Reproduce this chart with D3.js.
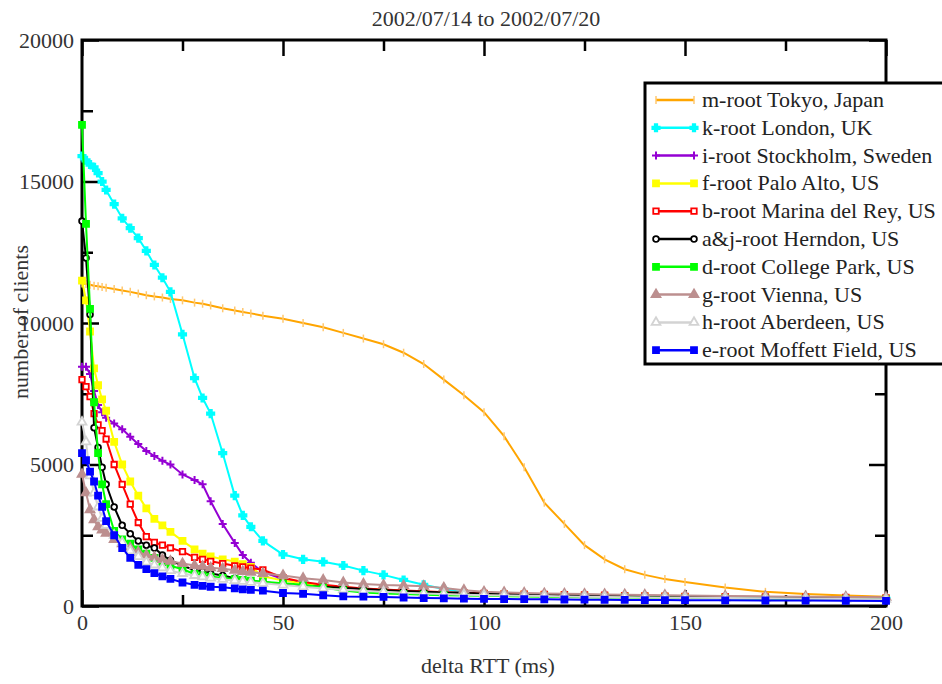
<!DOCTYPE html>
<html>
<head>
<meta charset="utf-8">
<script src="https://cdn.jsdelivr.net/npm/d3@7"></script>
<style>
  body { margin: 0; background: #fff; }
  svg { display: block; }
</style>
</head>
<body>
<svg></svg>
<script>
const width = 942;
const height = 684;
const font = "'Liberation Serif', 'DejaVu Serif', 'Times New Roman', Times, serif";

// delta RTT sample points (ms), shared by every curve
const rtt = [0, 1, 2, 3, 4, 5, 6, 8, 10, 12, 14, 16, 18, 20, 22, 25, 28, 30, 32, 35,
             38, 40, 42, 45, 50, 55, 60, 65, 70, 75, 80, 85, 90, 95, 100, 105, 110, 115, 120, 125,
             130, 135, 140, 145, 150, 160, 170, 180, 190, 200];

// number of clients for each root server
const mRoot = [11400, 11380, 11350, 11320, 11300, 11270, 11250, 11200, 11150, 11100, 11040, 10980, 10940, 10900, 10850, 10800, 10720, 10680, 10620, 10520,
               10440, 10390, 10340, 10260, 10150, 10000, 9850, 9650, 9450, 9250, 8950, 8550, 8000, 7450, 6850, 6000, 4900, 3650, 2900, 2150,
               1650, 1300, 1100, 950, 850, 650, 500, 420, 370, 330];
const kRoot = [15900, 15750, 15600, 15500, 15300, 15000, 14700, 14200, 13700, 13350, 13000, 12550, 12050, 11600, 11100, 9600, 8050, 7350, 6800, 5400,
               3900, 3200, 2800, 2300, 1820, 1650, 1560, 1430, 1250, 1100, 920, 750, 600, 480, 420, 400, 380, 370, 360, 350,
               340, 330, 320, 310, 300, 290, 280, 270, 260, 250];
const iRoot = [8450, 8450, 8200, 7600, 7100, 6850, 6650, 6450, 6250, 5980, 5720, 5480, 5300, 5130, 5000, 4650, 4450, 4300, 3700, 2900,
               2230, 1800, 1530, 1200, 950, 820, 720, 650, 600, 560, 520, 490, 460, 440, 420, 400, 390, 380, 370, 360,
               350, 345, 340, 335, 330, 320, 310, 300, 290, 280];
const fRoot = [11500, 10800, 9700, 8400, 7800, 7300, 6900, 5800, 5000, 4400, 3900, 3450, 3080, 2850, 2620, 2300, 2000, 1850, 1750, 1650,
               1570, 1480, 1380, 1050, 900, 800, 720, 660, 610, 570, 530, 500, 470, 450, 430, 410, 400, 390, 380, 370,
               360, 350, 340, 330, 320, 300, 290, 280, 270, 260];
const bRoot = [8000, 7750, 7400, 6800, 6400, 6200, 5900, 5000, 4300, 3600, 2950, 2450, 2250, 2150, 2050, 1920, 1720, 1650, 1580, 1500,
               1420, 1380, 1340, 1280, 1000, 850, 750, 680, 620, 580, 550, 520, 490, 470, 450, 430, 420, 410, 400, 390,
               380, 370, 360, 350, 340, 330, 320, 310, 300, 290];
const ajRoot = [13600, 12300, 10300, 6300, 5600, 4900, 4300, 3500, 2850, 2550, 2300, 2150, 2050, 1800, 1620, 1420, 1270, 1230, 1150, 1080,
                980, 920, 880, 840, 780, 720, 680, 640, 600, 560, 530, 500, 480, 460, 440, 420, 400, 390, 380, 370,
                360, 350, 340, 330, 320, 310, 300, 290, 280, 270];
const dRoot = [17000, 13500, 10500, 7200, 5400, 4300, 3600, 2650, 2350, 2200, 2000, 1850, 1700, 1550, 1420, 1300, 1130, 1080, 1040, 990,
               950, 920, 900, 860, 800, 750, 650, 550, 480, 440, 420, 400, 380, 370, 360, 350, 340, 330, 320, 310,
               300, 300, 290, 290, 280, 270, 260, 250, 240, 230];
const gRoot = [4650, 4000, 3400, 3050, 2800, 2680, 2570, 2350, 2200, 2050, 1900, 1800, 1720, 1640, 1580, 1500, 1430, 1400, 1350, 1320,
               1260, 1220, 1190, 1150, 1080, 980, 920, 830, 780, 740, 720, 700, 640, 560, 500, 480, 460, 440, 430, 420,
               410, 400, 390, 380, 370, 350, 340, 330, 320, 310];
const hRoot = [6500, 5800, 4600, 4000, 3500, 3100, 2850, 2500, 2250, 1950, 1750, 1550, 1450, 1350, 1250, 1150, 1080, 1030, 990, 940,
               900, 870, 840, 800, 740, 680, 620, 570, 530, 500, 470, 440, 420, 400, 380, 370, 360, 350, 340, 330,
               320, 310, 300, 295, 290, 280, 270, 260, 250, 240];
const eRoot = [5400, 5150, 4750, 4400, 3900, 3500, 3000, 2500, 2050, 1700, 1450, 1300, 1160, 1050, 960, 830, 750, 710, 680, 660,
               620, 590, 570, 540, 460, 430, 380, 340, 330, 320, 300, 280, 270, 260, 250, 245, 240, 235, 230, 225,
               220, 215, 210, 208, 205, 200, 195, 190, 185, 180];

const labels = ["m-root Tokyo, Japan", "k-root London, UK", "i-root Stockholm, Sweden", "f-root Palo Alto, US",
                "b-root Marina del Rey, US", "a&j-root Herndon, US", "d-root College Park, US", "g-root Vienna, US",
                "h-root Aberdeen, US", "e-root Moffett Field, US"];
const values = [mRoot, kRoot, iRoot, fRoot, bRoot, ajRoot, dRoot, gRoot, hRoot, eRoot];
const colors = ["#ffa500", "#00ffff", "#9400d3", "#ffff00", "#ff0000", "#000000", "#00ff00", "#bc8f8f", "#d3d3d3", "#0000ff"];
const markers = ["bar", "cross", "plus", "square", "openSquare", "circle", "square", "triangle", "openTriangle", "square"];

const xTicks = [0, 50, 100, 150, 200];
const xMinor = [25, 75, 125, 175];
const yTicks = [0, 5000, 10000, 15000, 20000];
const yMinor = [2500, 7500, 12500, 17500];

const svg = d3.select("svg")
    .attr("width", width)
    .attr("height", height)
    .style("font-family", font);

const plot = { left: 82, right: 886, top: 40, bottom: 606 };

const x = d3.scaleLinear().domain([0, 200]).range([plot.left, plot.right]);
const y = d3.scaleLinear().domain([0, 20000]).range([plot.bottom, plot.top]);

draw_axes();
draw_curves();
draw_legend();
draw_titles();

function styleAxis(g) {
    g.attr("font-family", null);
    g.select(".domain").remove();
    g.selectAll(".tick line").attr("stroke", "#000").attr("stroke-width", 2.5);
    g.selectAll(".tick text")
        .style("font-family", font)
        .attr("font-size", "22px")
        .attr("fill", "#333");
}

function draw_axes() {
    // major ticks with labels, minor ticks without; all ticks point inward
    svg.append("g").attr("transform", `translate(0,${plot.bottom})`)
        .call(d3.axisBottom(x).tickValues(xTicks).tickSizeInner(-16).tickSizeOuter(0).tickPadding(8).tickFormat(d3.format("d")))
        .call(styleAxis);
    svg.append("g").attr("transform", `translate(0,${plot.bottom})`)
        .call(d3.axisBottom(x).tickValues(xMinor).tickSizeInner(-11).tickSizeOuter(0).tickFormat(""))
        .call(styleAxis);
    svg.append("g").attr("transform", `translate(0,${plot.top})`)
        .call(d3.axisTop(x).tickValues(xTicks).tickSizeInner(-16).tickSizeOuter(0).tickFormat(""))
        .call(styleAxis);
    svg.append("g").attr("transform", `translate(0,${plot.top})`)
        .call(d3.axisTop(x).tickValues(xMinor).tickSizeInner(-11).tickSizeOuter(0).tickFormat(""))
        .call(styleAxis);

    svg.append("g").attr("transform", `translate(${plot.left},0)`)
        .call(d3.axisLeft(y).tickValues(yTicks).tickSizeInner(-17).tickSizeOuter(0).tickPadding(8).tickFormat(d3.format("d")))
        .call(styleAxis);
    svg.append("g").attr("transform", `translate(${plot.left},0)`)
        .call(d3.axisLeft(y).tickValues(yMinor).tickSizeInner(-11).tickSizeOuter(0).tickFormat(""))
        .call(styleAxis);
    svg.append("g").attr("transform", `translate(${plot.right},0)`)
        .call(d3.axisRight(y).tickValues(yTicks).tickSizeInner(-17).tickSizeOuter(0).tickFormat(""))
        .call(styleAxis);
    svg.append("g").attr("transform", `translate(${plot.right},0)`)
        .call(d3.axisRight(y).tickValues(yMinor).tickSizeInner(-11).tickSizeOuter(0).tickFormat(""))
        .call(styleAxis);

    // plot frame
    svg.append("rect")
        .attr("x", plot.left)
        .attr("y", plot.top)
        .attr("width", plot.right - plot.left)
        .attr("height", plot.bottom - plot.top)
        .attr("fill", "none")
        .attr("stroke", "#000")
        .attr("stroke-width", 3);
}

function addMarker(g, type, color, cx, cy) {
    if (type === "bar") {
        g.append("path").attr("d", `M${cx},${cy - 4}V${cy + 4}`)
            .attr("stroke", "#ffc870").attr("stroke-width", 1.5);
    } else if (type === "plus") {
        g.append("path").attr("d", `M${cx - 4},${cy}H${cx + 4}M${cx},${cy - 4}V${cy + 4}`)
            .attr("stroke", color).attr("stroke-width", 2);
    } else {
        const shapes = {
            cross: { type: d3.symbolCross, size: 30, fill: color },
            square: { type: d3.symbolSquare, size: 36, fill: color },
            openSquare: { type: d3.symbolSquare, size: 30, fill: "#fff" },
            circle: { type: d3.symbolCircle, size: 26, fill: "#fff" },
            triangle: { type: d3.symbolTriangle, size: 34, fill: color },
            openTriangle: { type: d3.symbolTriangle, size: 34, fill: "#fff" }
        };
        const s = shapes[type];
        g.append("path")
            .attr("d", d3.symbol().type(s.type).size(s.size)())
            .attr("transform", `translate(${cx},${cy})`)
            .attr("fill", s.fill)
            .attr("stroke", color)
            .attr("stroke-width", 1.8);
    }
}

function draw_curves() {
    const line = d3.line()
        .x((d, i) => x(rtt[i]))
        .y(d => y(d));

    values.forEach(function(vals, k) {
        const g = svg.append("g");
        g.append("path")
            .datum(vals)
            .attr("d", line)
            .attr("fill", "none")
            .attr("stroke", colors[k])
            .attr("stroke-width", 2);
        vals.forEach(function(v, i) {
            addMarker(g, markers[k], colors[k], x(rtt[i]), y(v));
        });
    });
}

function draw_legend() {
    const lg = svg.append("g");
    lg.append("rect")
        .attr("x", 645)
        .attr("y", 83)
        .attr("width", 320)
        .attr("height", 281)
        .attr("fill", "#fff")
        .attr("stroke", "#000")
        .attr("stroke-width", 3);

    labels.forEach(function(label, k) {
        const ry = 100 + k * 27.8;
        lg.append("line")
            .attr("x1", 656).attr("x2", 694)
            .attr("y1", ry).attr("y2", ry)
            .attr("stroke", colors[k])
            .attr("stroke-width", 2.5);
        addMarker(lg, markers[k], colors[k], 656, ry);
        addMarker(lg, markers[k], colors[k], 694, ry);
        lg.append("text")
            .attr("x", 702)
            .attr("y", ry + 7)
            .attr("font-size", "22px")
            .attr("fill", "#222")
            .text(label);
    });
}

function draw_titles() {
    svg.append("text")
        .attr("x", 486)
        .attr("y", 26)
        .attr("text-anchor", "middle")
        .attr("font-size", "22px")
        .attr("fill", "#333")
        .text("2002/07/14 to 2002/07/20");

    svg.append("text")
        .attr("x", 488)
        .attr("y", 673)
        .attr("text-anchor", "middle")
        .attr("font-size", "22px")
        .attr("fill", "#333")
        .text("delta RTT (ms)");

    svg.append("text")
        .attr("transform", "translate(28,322) rotate(-90)")
        .attr("text-anchor", "middle")
        .attr("font-size", "22px")
        .attr("fill", "#333")
        .text("number of clients");
}
</script>
</body>
</html>
